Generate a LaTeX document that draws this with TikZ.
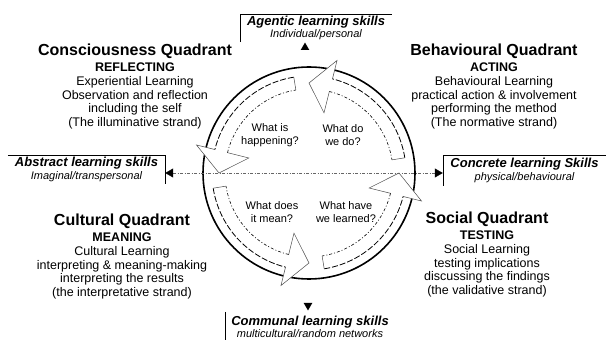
\documentclass[tikz,border=0pt]{standalone}
\usepackage{fontspec}
\setmainfont{Liberation Sans}
\usetikzlibrary{positioning,arrows.meta,shapes.geometric}

\tikzset{
  quad/.style={align=center, inner sep=0pt, anchor=north,
    font=\fontsize{12.5}{13.5}\selectfont},
  quadtitle/.style={font=\fontsize{16}{16}\selectfont\bfseries},
  question/.style={align=center, inner sep=0pt,
    font=\fontsize{11}{13}\selectfont},
  skillbox/.style={align=center, inner sep=0pt,
    font=\fontsize{13}{12.5}\selectfont\bfseries\itshape},
  marker/.style={isosceles triangle, isosceles triangle apex angle=60,
    fill=black, inner sep=2pt},
  rim/.style={line width=1.6pt},
  bandout/.style={line width=0.8pt, dash pattern=on 6pt off 2pt},
  bandin/.style={line width=0.6pt, dash pattern=on 3pt off 2pt on 1pt off 2pt},
  headline/.style={line width=0.5pt, black!70},
  axisline/.style={line width=0.5pt, black!60, dash pattern=on 3pt off 1.5pt on 1pt off 1.5pt,
    {Triangle[width=9pt,length=8pt,black]}-{Triangle[width=9pt,length=8pt,black]}}
}

\newcommand{\subline}[1]{{\mdseries\fontsize{11}{12}\selectfont #1}}

\begin{document}
\begin{tikzpicture}[x=1pt,y=1pt]
  \useasboundingbox (0,0) rectangle (606,340);

  % the learning cycle
  \coordinate (C) at (309,167);
  \draw[rim] (C) circle[radius=106];
  \begin{scope}[shift={(C)}]
    \foreach \a in {0,90,180,270}{
      \fill[white] (\a+9:97) arc[start angle=\a+9, end angle=\a+76, radius=97]
        -- (\a+76:116) -- (\a+90:90) -- (\a+76:62) -- (\a+76:84)
        arc[start angle=\a+76, end angle=\a+9, radius=84] -- cycle;
      \draw[bandout] (\a+9:97) arc[start angle=\a+9, end angle=\a+76, radius=97];
      \draw[headline] (\a+76:97) -- (\a+76:116) -- (\a+90:90) -- (\a+76:62) -- (\a+76:84);
      \draw[bandin] (\a+76:84) arc[start angle=\a+76, end angle=\a+9, radius=84];
      \draw[headline] (\a+9:84) -- (\a+9:97);
    }
  \end{scope}

  % questions
  \node[question] (qdo) at (343,205) {What do\\we do?};
  \node[question] (qhap) at (270,205) {What is\\happening?};
  \node[question] (qmean) at (272,128) {What does\\it mean?};
  \node[question] (qlearn) at (346,128) {What have\\we learned?};

  % quadrants
  \node[quad] (cons) at (135,296) {{\fontsize{16}{16}\selectfont\bfseries Consciousness Quadrant}\\[2.5pt]
    \textbf{REFLECTING}\\[0.5pt]
    Experiential Learning\\
    Observation and reflection\\
    including the self\\
    (The illuminative strand)};
  \node[quad] (beh) at (494,296) {{\fontsize{16}{16}\selectfont\bfseries Behavioural Quadrant}\\[2.5pt]
    \textbf{ACTING}\\[0.5pt]
    Behavioural Learning\\
    practical action \& involvement\\
    performing the method\\
    (The normative strand)};
  \node[quad] (cult) at (122,126) {{\fontsize{16}{16}\selectfont\bfseries Cultural Quadrant}\\[2.5pt]
    \textbf{MEANING}\\[0.5pt]
    Cultural Learning\\
    interpreting \& meaning-making\\
    interpreting the results\\
    (the interpretative strand)};
  \node[quad] (soc) at (487,128) {{\fontsize{16}{16}\selectfont\bfseries Social Quadrant}\\[2.5pt]
    \textbf{TESTING}\\[0.5pt]
    Social Learning\\
    testing implications\\
    discussing the findings\\
    (the validative strand)};

  % skill boxes
  \node[skillbox, minimum width=152pt, minimum height=28pt] (agbox) at (316,312)
    {Agentic learning skills\\\subline{Individual/personal}};
  \node[skillbox, minimum width=157pt, minimum height=29pt] (absbox) at (86.5,170.5)
    {Abstract learning skills\\\subline{Imaginal/transpersonal}};
  \node[skillbox, minimum width=163pt, minimum height=31pt] (conbox) at (524.5,169.5)
    {Concrete learning Skills\\\subline{physical/behavioural}};
  \node[skillbox, minimum width=170pt, minimum height=30pt] (combox) at (310,13)
    {Communal learning skills\\\subline{multicultural/random networks}};
  \draw (agbox.south west) -- (agbox.north west) -- (agbox.north east);
  \draw (absbox.north west) -- (absbox.north east) -- (absbox.south east);
  \draw (conbox.north east) -- (conbox.north west) -- (conbox.south west);
  \draw (combox.north west) -- (combox.south west);

  % axes
  \node[marker, shape border rotate=90] (agmark) at (305,292) {};
  \node[marker, shape border rotate=-90] (commark) at (308,35) {};
  \draw[axisline] (absbox.east |- C) -- (conbox.west |- C);
\end{tikzpicture}
\end{document}
